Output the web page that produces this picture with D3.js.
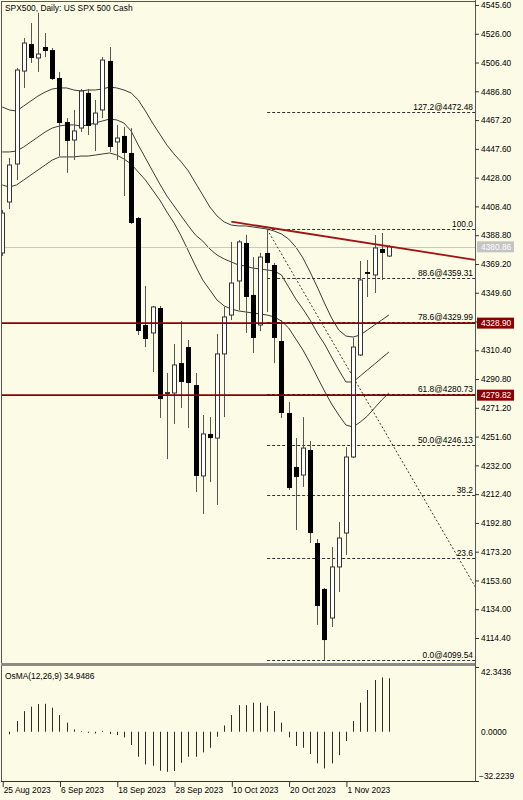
<!DOCTYPE html>
<html><head><meta charset="utf-8">
<script src="https://cdn.jsdelivr.net/npm/d3@7"></script>
<style>
html,body{margin:0;padding:0;background:#fcfce6;}
svg{display:block;}
text{font-family:"Liberation Sans",Arial,sans-serif;font-size:8.4px;}
</style></head><body>
<svg id="c" width="523" height="800"></svg>
<script>
// ---------- DATA ----------
const dates = ["2023-08-25","2023-08-28","2023-08-29","2023-08-30","2023-08-31","2023-09-01","2023-09-04","2023-09-05","2023-09-06","2023-09-07","2023-09-08",
"2023-09-11","2023-09-12","2023-09-13","2023-09-14","2023-09-15","2023-09-18","2023-09-19","2023-09-20","2023-09-21","2023-09-22",
"2023-09-25","2023-09-26","2023-09-27","2023-09-28","2023-09-29","2023-10-02","2023-10-03","2023-10-04","2023-10-05","2023-10-06",
"2023-10-09","2023-10-10","2023-10-11","2023-10-12","2023-10-13","2023-10-16","2023-10-17","2023-10-18","2023-10-19","2023-10-20",
"2023-10-23","2023-10-24","2023-10-25","2023-10-26","2023-10-27","2023-10-30","2023-10-31","2023-11-01","2023-11-02","2023-11-03",
"2023-11-06","2023-11-07","2023-11-08","2023-11-09"];
const open  = [4376.7,4411.4,4437.3,4500.6,4519.0,4509.5,4517.0,4514.9,4495.9,4465.9,4453.6,4461.8,4485.7,4464.5,4474.1,4507.5,4452.3,4456.4,4444.8,4400.5,4327.6,4322.2,4339.2,4281.0,4281.3,4301.7,4312.6,4286.7,4224.8,4253.4,4250.6,4307.9,4334.4,4357.6,4383.5,4348.1,4327.6,4376.7,4368.5,4316.7,4267.7,4230.9,4225.4,4242.5,4179.1,4147.8,4128.0,4162.8,4185.9,4237.7,4307.2,4363.7,4361.7,4379.4,4374.6];
const high  = [4406.0,4441.4,4502.7,4523.1,4533.3,4540.2,4526.5,4516.3,4500.0,4468.6,4474.1,4488.4,4488.4,4480.9,4510.2,4517.0,4463.9,4462.5,4461.8,4401.2,4354.2,4340.6,4340.6,4294.9,4314.7,4330.3,4317.4,4294.9,4266.3,4264.9,4321.5,4339.9,4384.2,4385.5,4389.0,4373.9,4376.7,4392.74,4369.9,4331.0,4275.2,4250.6,4264.9,4248.6,4181.8,4148.5,4176.4,4193.4,4244.5,4318.8,4371.2,4371.9,4388.9,4390.3,4382.1];
const low   = [4374.6,4406.6,4426.4,4489.1,4506.1,4500.0,4510.2,4494.5,4442.7,4431.2,4440.0,4459.1,4457.0,4446.1,4468.6,4445.5,4440.0,4415.5,4396.4,4320.8,4312.6,4295.6,4264.3,4236.3,4260.2,4271.1,4257.5,4213.9,4198.9,4220.7,4205.0,4264.9,4331.0,4337.8,4322.2,4308.5,4323.5,4336.5,4301.7,4264.3,4215.2,4188.0,4217.3,4179.1,4123.3,4099.54,4121.9,4145.7,4170.9,4237.0,4306.5,4346.7,4349.4,4358.3,4373.9];
const close = [4403.9,4436.6,4501.3,4519.7,4509.5,4512.2,4514.3,4495.2,4465.2,4453.0,4459.8,4487.0,4463.2,4472.0,4508.1,4448.9,4455.0,4444.8,4397.1,4323.5,4318.1,4339.9,4277.2,4281.6,4300.4,4288.8,4288.1,4224.8,4253.4,4250.6,4307.9,4333.1,4356.2,4384.2,4346.7,4318.8,4373.9,4369.9,4318.8,4267.7,4216.6,4224.1,4243.8,4185.9,4136.2,4113.0,4162.8,4182.5,4237.7,4312.6,4358.3,4362.4,4380.1,4376.7,4380.86];
const upperBand = [4476.1,4474.1,4473.4,4476.8,4480.2,4483.6,4486.3,4488.4,4489.1,4489.1,4487.7,4487.0,4487.7,4487.7,4488.4,4489.7,4489.1,4487.7,4485.7,4480.9,4473.4,4465.2,4457.7,4450.2,4444.1,4438.7,4432.5,4424.3,4416.2,4408.0,4401.9,4397.8,4395.7,4395.1,4395.1,4394.4,4393.7,4393.0,4391.6,4389.6,4386.2,4380.7,4373.3,4363.7,4353.5,4342.6,4332.4,4324.2,4320.1,4319.4,4320.8,4324.2,4327.6,4331.0,4334.4];
const midBand   = [4445.5,4445.5,4446.1,4448.9,4452.3,4455.7,4459.1,4461.8,4463.2,4463.9,4463.9,4463.2,4463.9,4465.2,4466.6,4467.9,4467.3,4465.2,4459.8,4450.2,4441.4,4432.5,4423.7,4415.5,4408.7,4401.9,4395.1,4388.9,4384.8,4379.4,4375.3,4372.6,4370.5,4368.5,4367.8,4366.4,4365.8,4365.1,4364.4,4361.7,4353.5,4345.3,4338.5,4331.0,4322.2,4314.7,4305.8,4297.0,4288.8,4288.8,4292.9,4297.0,4301.0,4305.1,4309.2];
const lowerBand = [4423.0,4421.6,4423.0,4426.4,4429.8,4433.2,4436.6,4440.0,4442.1,4442.1,4442.1,4442.7,4442.7,4443.4,4444.1,4444.8,4443.4,4440.7,4437.3,4431.8,4426.4,4419.6,4412.8,4404.6,4397.1,4388.2,4378.0,4367.8,4358.3,4351.5,4344.6,4340.6,4338.5,4337.2,4336.5,4335.8,4335.1,4334.4,4333.1,4330.3,4325.6,4318.1,4310.6,4301.7,4292.2,4282.7,4273.8,4266.3,4259.5,4258.1,4261.5,4265.6,4271.1,4276.5,4281.3];
const osma = [null,-1.7,7.0,13.5,16.4,18.1,18.3,15.7,10.9,5.9,1.5,0.4,-0.7,-1.1,0.6,-1.5,-2.2,-3.7,-8.7,-16.4,-21.4,-22.2,-25.5,-26.2,-25.7,-20.3,-16.4,-16.4,-13.5,-10.5,-3.3,4.1,10.9,17.4,17.4,19.0,19.0,17.0,13.5,5.9,-3.7,-9.4,-10.5,-14.6,-20.7,-24.0,-20.7,-15.3,-6.1,7.0,19.0,27.3,33.8,35.5,34.9486];
const priceTicks = [4545.60,4526.00,4506.40,4486.80,4467.20,4447.60,4428.00,4408.40,4388.80,4369.20,4349.60,4330.00,4310.40,4290.80,4271.20,4251.60,4232.00,4212.40,4192.80,4173.20,4153.60,4134.00,4114.40];
const osmaTicks = [42.3436, 0.0, -32.2239];
const dateTickIdx = [0,8,16,24,32,40,48];
const fibHigh = {bar:37, price:4392.74};
const fibLow  = {bar:72, price:4099.54};
const fibLevels = [127.2,100,88.6,78.6,61.8,50,38.2,23.6,0];
const fibLabels = ["127.2@4472.48","100.0","88.6@4359.31","78.6@4329.99","61.8@4280.73","50.0@4246.13","38.2","23.6","0.0@4099.54"];
const redLevels = [4328.90, 4279.82];
const bidPrice = 4380.86;
const trendLine = [{bar:32, price:4398.0},{bar:66, price:4372.0}];
const title = "SPX500, Daily:  US SPX 500 Cash";
const osmaTitle = "OsMA(12,26,9) 34.9486";

// ---------- LAYOUT ----------
const svg = d3.select("#c");
const BG = "#fcfce6";
const FONT = "Liberation Sans, Arial, sans-serif";
const P = {l:2, r:475, t:2, b:663};
const I = {t:667, b:781};
const x = d3.scaleLinear().domain([0,66]).range([2.2,474.8]);
const y = d3.scaleLinear().domain([4114.4,4545.6]).range([638,5]);
const yo = d3.scaleLinear().domain([-32.2239,42.3436]).range([781,667]);
const cx = i => Math.round(x(i)) + 0.5;

svg.append("rect").attr("width",523).attr("height",800).attr("fill",BG);
const defs = svg.append("defs");
defs.append("clipPath").attr("id","cm").append("rect").attr("x",P.l).attr("y",P.t).attr("width",P.r-P.l).attr("height",P.b-P.t);
defs.append("clipPath").attr("id","ci").append("rect").attr("x",P.l).attr("y",I.t).attr("width",P.r-P.l).attr("height",I.b-I.t);

const main = svg.append("g").attr("clip-path","url(#cm)");

// bands
const ln = d3.line().x((d,i)=>x(i)).y(d=>y(d));
[upperBand, midBand, lowerBand].forEach(arr=>{
  main.append("path").attr("d",ln(arr)).attr("fill","none").attr("stroke","#3a3a3a").attr("stroke-width",1);
});

// bid line
main.append("line").attr("x1",P.l).attr("x2",P.r).attr("y1",Math.round(y(bidPrice))+0.5).attr("y2",Math.round(y(bidPrice))+0.5)
  .attr("stroke","#c8c8c8").attr("stroke-width",1);

// fib
const fr = fibHigh.price - fibLow.price;
fibLevels.forEach((lv,k)=>{
  const py = Math.round(y(fibLow.price + fr*lv/100))+0.5;
  main.append("line").attr("x1",x(fibHigh.bar)).attr("x2",P.r).attr("y1",py).attr("y2",py)
    .attr("stroke","#333").attr("stroke-width",1).attr("stroke-dasharray","3,2");
  main.append("text").attr("x",473).attr("y",py-2.5).attr("text-anchor","end").style("fill","#000").text(fibLabels[k]);
});
main.append("line").attr("x1",x(fibHigh.bar)).attr("y1",y(fibHigh.price)).attr("x2",x(fibLow.bar)).attr("y2",y(fibLow.price))
  .attr("stroke","#333").attr("stroke-width",1).attr("stroke-dasharray","2,2");

// candles
const cg = main.append("g");
dates.forEach((d,i)=>{
  const o=open[i], c=close[i], h=high[i], l=low[i];
  const X = cx(i);
  cg.append("line").attr("x1",X).attr("x2",X).attr("y1",y(h)).attr("y2",y(l)).attr("stroke","#555").attr("stroke-width",1);
  const top = y(Math.max(o,c)), bot = y(Math.min(o,c));
  if (c >= o) {
    cg.append("rect").attr("x",X-2).attr("y",top).attr("width",4).attr("height",Math.max(bot-top,1))
      .attr("fill","#fff").attr("stroke","#333").attr("stroke-width",1);
  } else {
    cg.append("rect").attr("x",X-2.5).attr("y",top).attr("width",5).attr("height",Math.max(bot-top,1.5)).attr("fill","#000");
  }
});

// red horizontal levels
redLevels.forEach(v=>{
  main.append("line").attr("x1",P.l).attr("x2",P.r).attr("y1",y(v)).attr("y2",y(v)).attr("stroke","#8b0000").attr("stroke-width",1.6);
});
// trend line
main.append("line").attr("x1",x(trendLine[0].bar)).attr("y1",y(trendLine[0].price))
  .attr("x2",x(trendLine[1].bar)).attr("y2",y(trendLine[1].price))
  .attr("stroke","#9e1515").attr("stroke-width",1.8);

main.append("text").attr("x",5).attr("y",11).style("fill","#000").text(title);

// ---------- OsMA ----------
const ig = svg.append("g").attr("clip-path","url(#ci)");
osma.forEach((v,i)=>{
  if (v===null) return;
  ig.append("line").attr("x1",cx(i)).attr("x2",cx(i)).attr("y1",yo(0)).attr("y2",yo(v)).attr("stroke","#2b2b2b").attr("stroke-width",1);
});
svg.append("text").attr("x",5).attr("y",679).style("fill","#000").text(osmaTitle);

// ---------- frames ----------
svg.append("line").attr("x1",1).attr("x2",P.r).attr("y1",1.5).attr("y2",1.5).attr("stroke","#555");
svg.append("line").attr("x1",1.5).attr("x2",1.5).attr("y1",1).attr("y2",I.b).attr("stroke","#555");
svg.append("rect").attr("x",1).attr("y",663).attr("width",P.r-1).attr("height",3).attr("fill","#8a8a8a");
svg.append("line").attr("x1",1).attr("x2",P.r).attr("y1",I.b+0.5).attr("y2",I.b+0.5).attr("stroke","#333");
svg.append("line").attr("x1",P.r+0.5).attr("x2",P.r+0.5).attr("y1",0).attr("y2",I.b+1).attr("stroke","#555");

// ---------- price axis ----------
const ax = svg.append("g").attr("transform",`translate(${P.r},0)`)
  .call(d3.axisRight(y).tickValues(priceTicks).tickSize(4).tickPadding(2).tickFormat(d3.format(".2f")));
ax.select(".domain").remove();
ax.selectAll("line").attr("stroke","#333");
ax.selectAll("text").style("font-family",FONT).style("font-size","8.4px").style("fill","#000");

// labels on axis
function axisTag(v, fill){
  const py = y(v);
  svg.append("rect").attr("x",477).attr("y",py-5.5).attr("width",37).attr("height",11).attr("fill",fill);
  svg.append("text").attr("x",481).attr("y",py).attr("dy","0.35em").style("fill","#fff").text(d3.format(".2f")(v));
}
redLevels.forEach(v=>axisTag(v,"#8b0000"));
axisTag(bidPrice,"#c4c4c4");

// OsMA axis
const oy = [672, 731.7, 776];
osmaTicks.forEach((v,k)=>{
  svg.append("text").attr("x",v<0?479:481).attr("y",k===1?yo(v):oy[k]).attr("dy","0.35em").style("fill","#000").text(d3.format(".4f")(v));
});
[I.t, I.b].forEach(py=>svg.append("line").attr("x1",P.r).attr("x2",P.r+4).attr("y1",py+0.5).attr("y2",py+0.5).attr("stroke","#333"));

// ---------- date axis ----------
const parse = d3.timeParse("%Y-%m-%d"), fmt = d3.timeFormat("%-d %b %Y");
const dx = svg.append("g").attr("transform",`translate(0,${I.b+1})`)
  .call(d3.axisBottom(x).tickValues(dateTickIdx).tickSize(5).tickFormat(i=>fmt(parse(dates[i]))));
dx.select(".domain").remove();
dx.selectAll(".tick line").attr("stroke","#333").attr("transform","translate(0.5,0)");
dx.selectAll(".tick text").attr("text-anchor","start").attr("x",1).attr("y",5).attr("dy","0.71em")
  .style("font-family",FONT).style("font-size","8.4px").style("fill","#000");
</script>
</body></html>
